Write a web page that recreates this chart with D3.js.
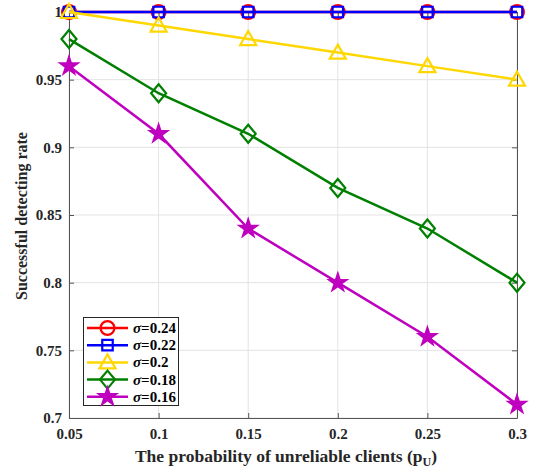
<!DOCTYPE html>
<html><head><meta charset="utf-8">
<script src="https://cdn.jsdelivr.net/npm/d3@7"></script>
<style>body{margin:0;background:#fff}svg{display:block}</style>
</head><body>
<script>
const xValues = [0.05, 0.1, 0.15, 0.2, 0.25, 0.3];
const sigma024 = [1, 1, 1, 1, 1, 1];
const sigma022 = [1, 1, 1, 1, 1, 1];
const sigma020 = [1, 0.99, 0.98, 0.97, 0.96, 0.95];
const sigma018 = [0.98, 0.94, 0.91, 0.87, 0.84, 0.80];
const sigma016 = [0.96, 0.91, 0.84, 0.80, 0.76, 0.71];
const seriesLabels = ["0.24", "0.22", "0.2", "0.18", "0.16"];
const xTicks = [0.05, 0.1, 0.15, 0.2, 0.25, 0.3];
const yTicks = [0.7, 0.75, 0.8, 0.85, 0.9, 0.95, 1];

const series = [
  {vals: sigma024, color: "#ff0000", marker: "circle"},
  {vals: sigma022, color: "#0000ff", marker: "square"},
  {vals: sigma020, color: "#ffd700", marker: "triangle"},
  {vals: sigma018, color: "#008000", marker: "diamond"},
  {vals: sigma016, color: "#bf00bf", marker: "star"}
];

const W = 535, H = 472;
const L = 69, R = 517, T = 12, B = 418;
const svg = d3.select("body").append("svg").attr("width", W).attr("height", H);
const x = d3.scaleLinear().domain([0.05, 0.3]).range([L, R]);
const y = d3.scaleLinear().domain([0.7, 1]).range([B, T]);
const font = "'Liberation Serif','Times New Roman',serif";

// grid
const g = svg.append("g");
g.selectAll(".gx").data(xTicks).join("line")
  .attr("x1", d => x(d)).attr("x2", d => x(d)).attr("y1", T).attr("y2", B)
  .attr("stroke", "#e3e3e3").attr("stroke-width", 1);
g.selectAll(".gy").data(yTicks).join("line")
  .attr("x1", L).attr("x2", R).attr("y1", d => y(d)).attr("y2", d => y(d))
  .attr("stroke", "#e3e3e3").attr("stroke-width", 1);

// axes
const axColor = "#555";
const fmt = d => String(+d.toFixed(2));
svg.append("g").attr("transform", `translate(0,${B})`)
  .call(d3.axisBottom(x).tickValues(xTicks).tickFormat(fmt).tickSizeInner(-5).tickSizeOuter(0).tickPadding(10));
svg.append("g").attr("transform", `translate(${L},0)`)
  .call(d3.axisLeft(y).tickValues(yTicks).tickFormat(fmt).tickSizeInner(-5).tickSizeOuter(0).tickPadding(7));
svg.append("g").attr("transform", `translate(0,${T})`)
  .call(d3.axisTop(x).tickValues(xTicks).tickFormat("").tickSizeInner(-5).tickSizeOuter(0));
svg.append("g").attr("transform", `translate(${R},0)`)
  .call(d3.axisRight(y).tickValues(yTicks).tickFormat("").tickSizeInner(-5).tickSizeOuter(0));
svg.selectAll(".domain, .tick line").attr("stroke", axColor).attr("stroke-width", 1);
svg.selectAll(".tick text").attr("font-family", font).attr("font-weight", "bold")
  .attr("font-size", 15).attr("fill", "#262626");

// lines and markers
const line = d3.line().x((d, i) => x(xValues[i])).y(d => y(d));
function markerPath(type) {
  switch (type) {
    case "circle": return d3.symbol(d3.symbolCircle, 150)();
    case "square": return d3.symbol(d3.symbolSquare, 110)();
    case "triangle": return "M0,-8L8,6L-8,6Z";
    case "diamond": return "M0,-9L7.5,0L0,9L-7.5,0Z";
    case "star": return d3.symbol(d3.symbolStar, 85)();
  }
}
series.forEach(s => {
  svg.append("path").datum(s.vals).attr("d", line)
    .attr("fill", "none").attr("stroke", s.color).attr("stroke-width", 2.5);
  svg.selectAll(null).data(s.vals).join("path")
    .attr("transform", (d, i) => `translate(${x(xValues[i])},${y(d)})`)
    .attr("d", markerPath(s.marker))
    .attr("fill", s.marker === "star" ? s.color : "none")
    .attr("stroke", s.color).attr("stroke-width", 2.2);
});

// axis labels
svg.append("text").attr("x", 286).attr("y", 462).attr("text-anchor", "middle")
  .attr("font-family", font).attr("font-weight", "bold").attr("font-size", 17.5).attr("fill", "#262626")
  .html('The probability of unreliable clients (p<tspan font-size="12" dy="4">U</tspan><tspan dy="-4">)</tspan>');
svg.append("text").attr("transform", `translate(27,216) rotate(-90)`).attr("text-anchor", "middle")
  .attr("font-family", font).attr("font-weight", "bold").attr("font-size", 16).attr("fill", "#262626")
  .text("Successful detecting rate");

// legend
const lg = svg.append("g");
lg.append("rect").attr("x", 83.5).attr("y", 317.5).attr("width", 95).attr("height", 88)
  .attr("fill", "#fff").attr("stroke", "#262626").attr("stroke-width", 1);
series.forEach((s, i) => {
  const cy = 328 + i * 17.2;
  lg.append("line").attr("x1", 87).attr("x2", 128).attr("y1", cy).attr("y2", cy)
    .attr("stroke", s.color).attr("stroke-width", 2.5);
  lg.append("path").attr("transform", `translate(107.5,${cy})`).attr("d", markerPath(s.marker))
    .attr("fill", s.marker === "star" ? s.color : "none").attr("stroke", s.color).attr("stroke-width", 2.2);
  lg.append("text").attr("x", 133).attr("y", cy + 5).attr("font-family", font).attr("font-weight", "bold")
    .attr("font-size", 15).attr("fill", "#000")
    .html(`<tspan font-style="italic">σ</tspan>=${seriesLabels[i]}`);
});
</script>
</body></html>
